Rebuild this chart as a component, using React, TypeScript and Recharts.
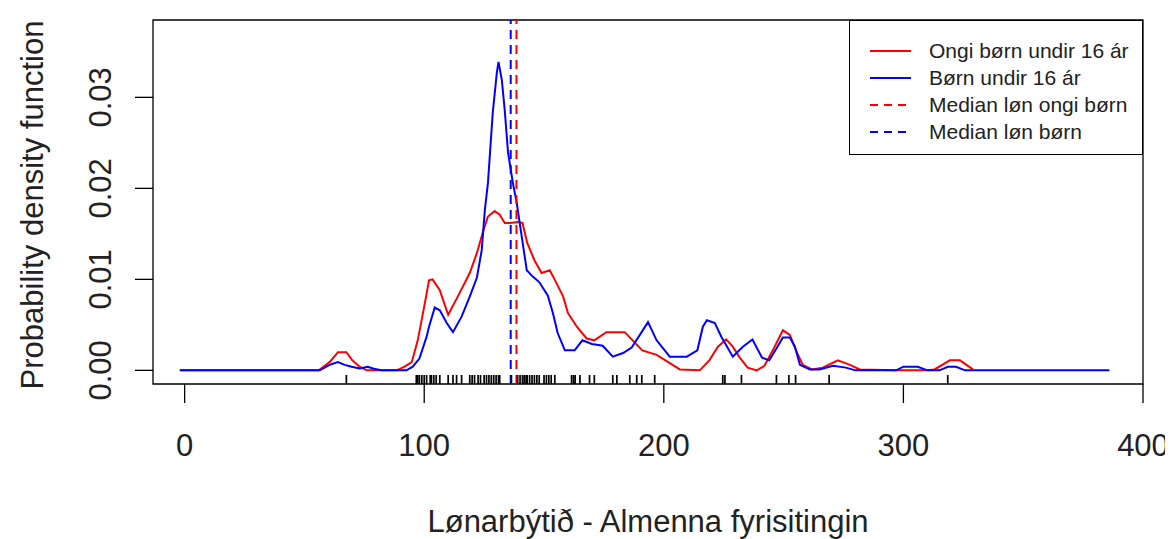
import React from 'react';
import { ComposedChart, Line, XAxis, YAxis, Scatter, ReferenceLine, ReferenceArea } from 'recharts';

// density curves (x = lønarbýti, y = density)
const ongiX = [-2, 56, 60.5, 64, 67.5, 70, 73, 76, 88.5, 91.8, 94.8, 97.3, 100, 102, 103.5, 106.5, 110, 114, 119, 122, 124.5, 126.6, 129.4, 131.5, 133.6, 135.7, 139, 141, 143, 146, 149, 152.4, 155, 158, 160, 163.7, 167.8, 171, 176, 183.7, 187, 191, 197, 202.5, 206.7, 215, 219, 222.6, 226, 228.8, 231.7, 235, 238.8, 242, 245.5, 249.7, 252.6, 255.5, 258, 261.8, 266.4, 272.6, 277.7, 281.8, 297, 310, 313, 319.4, 323.6, 329];
const ongiY = [0, 0, 0.0009, 0.002, 0.002, 0.0011, 0.0004, 0, 0, 0.0004, 0.0009, 0.0033, 0.007, 0.0099, 0.01, 0.0088, 0.0061, 0.0081, 0.0107, 0.0129, 0.0152, 0.0169, 0.0175, 0.0171, 0.0162, 0.0162, 0.0163, 0.0162, 0.014, 0.0121, 0.0107, 0.011, 0.0097, 0.0081, 0.0063, 0.0048, 0.0035, 0.0033, 0.0042, 0.0042, 0.0033, 0.0022, 0.0017, 0.0008, 0.0001, 0, 0.0011, 0.0026, 0.0034, 0.0026, 0.0014, 0.0003, 0, 0.0005, 0.0022, 0.0044, 0.0039, 0.002, 0.0006, 0.0001, 0.0003, 0.0011, 0.0006, 0.0001, 0, 0, 0.0001, 0.0011, 0.0011, 0.0001];

const bornX = [-2, 56.4, 60.5, 64, 66.8, 69.7, 73, 76.4, 78.6, 82, 92.6, 95.2, 98, 101, 102, 104.4, 106.5, 109.4, 112, 115.6, 119, 122, 124, 125.3, 126.6, 128.6, 130.3, 131, 132.4, 133.6, 135, 137, 138.6, 140.7, 142.8, 145.3, 148, 151.6, 153.7, 155.7, 158.7, 162.8, 166, 170, 174.5, 178.7, 183, 186.6, 190, 193.4, 197, 202.5, 209.6, 214, 216.3, 218, 221.3, 224, 228.8, 233, 237, 241, 244, 247, 249.7, 252.6, 254.7, 256.8, 261, 265, 270.6, 276, 280, 297, 300, 306, 310, 315, 318.6, 322, 325.7, 386];
const bornY = [0, 0, 0.0006, 0.0009, 0.0006, 0.0004, 0.0002, 0.0004, 0.0002, 0, 0, 0.0004, 0.0013, 0.0037, 0.0048, 0.0069, 0.0066, 0.0052, 0.0042, 0.0059, 0.0081, 0.0102, 0.0132, 0.0176, 0.0206, 0.0283, 0.0327, 0.0339, 0.0319, 0.0286, 0.0239, 0.0206, 0.0184, 0.0147, 0.011, 0.0103, 0.0097, 0.0082, 0.0063, 0.0041, 0.0022, 0.0022, 0.0033, 0.0029, 0.0027, 0.0015, 0.0019, 0.0025, 0.0039, 0.0053, 0.0033, 0.0015, 0.0015, 0.0022, 0.0048, 0.0055, 0.0052, 0.0037, 0.0015, 0.0026, 0.0034, 0.0014, 0.0011, 0.0024, 0.0036, 0.0036, 0.0026, 0.0006, 0.0001, 0.0001, 0.0005, 0.0003, 0, 0, 0.0004, 0.0004, 0, 0, 0.0004, 0.0004, 0, 0];

const medianOngi = 138.5;
const medianBorn = 136.1;

// rug of observations along the bottom
const rugX = [67.5, 96.7, 97.3, 98, 99, 100, 101, 102.5, 103, 104, 105, 106.5, 110, 112, 113.5, 115.6, 119, 120, 121, 122.5, 123.5, 125, 126, 127, 128, 129, 130, 131, 131.5, 136.4, 139, 140, 141, 141.7, 142.5, 143, 144, 145, 146, 147, 148, 150, 151, 152, 153, 154.5, 161.5, 162.3, 163, 165, 169, 171, 178.7, 180.4, 185.8, 188.7, 190.8, 196.2, 224.6, 225.5, 232.4, 247, 252.2, 255, 269, 318.5];

const xTicks = [0, 100, 200, 300, 400];
const yTicks = [0, 0.01, 0.02, 0.03];

const legendItems = [
    { label: 'Ongi børn undir 16 ár', color: '#ff0000', dashed: false },
    { label: 'Børn undir 16 ár', color: '#0000ff', dashed: false },
    { label: 'Median løn ongi børn', color: '#ff0000', dashed: true },
    { label: 'Median løn børn', color: '#0000ff', dashed: true },
];

const FONT = '"Liberation Sans", Arial, sans-serif';
const TEXT = '#222';
const X_MIN = -13.2;
const X_MAX = 400;
const Y_MIN = -0.0015;
const Y_MAX = 0.0385;

const ongiData = ongiX.map((x, i) => ({ x, y: ongiY[i] }));
const bornData = bornX.map((x, i) => ({ x, y: bornY[i] }));
const rugData = rugX.map(x => ({ x, y: Y_MIN }));

const YTick = (props: any) => {
    const { x, y, payload } = props;
    return (
        <text x={x} y={y} transform={`rotate(-90, ${x}, ${y})`} textAnchor="middle" dominantBaseline="central"
            fill={TEXT} fontSize={31} fontFamily={FONT}>
            {payload.value.toFixed(2)}
        </text>
    );
};

const RugMark = (props: any) => {
    const { cx, cy } = props;
    return <line x1={cx} x2={cx} y1={cy} y2={cy - 9} stroke="#000" strokeWidth={1.7} />;
};

const App: React.FC = () => {
    return (
        <div style={{ position: 'relative', width: 1165, height: 531, fontFamily: FONT }}>
            <ComposedChart width={1165} height={531} margin={{ top: 12, right: 30, left: 0, bottom: 0 }}>
                <XAxis type="number" dataKey="x" domain={[X_MIN, X_MAX]} ticks={xTicks} allowDataOverflow
                    axisLine={false} tickSize={19} tickMargin={31} height={155}
                    tickLine={{ stroke: '#000', strokeWidth: 1.3 }}
                    tick={{ fill: TEXT, fontSize: 31, fontFamily: FONT }}
                    label={{
                        content: (p: any) => (
                            <text x={p.viewBox.x + p.viewBox.width / 2} y={p.viewBox.y + 137} textAnchor="middle"
                                dominantBaseline="central" fill={TEXT} fontSize={31} fontFamily={FONT}>
                                Lønarbýtið - Almenna fyrisitingin
                            </text>
                        ),
                    }} />
                <YAxis type="number" dataKey="y" domain={[Y_MIN, Y_MAX]} ticks={yTicks} allowDataOverflow
                    axisLine={false} width={145} tickSize={18} tickMargin={34}
                    tickLine={{ stroke: '#000', strokeWidth: 1.3 }}
                    tick={<YTick />}
                    label={{
                        content: (p: any) => {
                            const cx = p.viewBox.x + 24;
                            const cy = p.viewBox.y + p.viewBox.height / 2 + 3;
                            return (
                                <text x={cx} y={cy} transform={`rotate(-90, ${cx}, ${cy})`} textAnchor="middle"
                                    dominantBaseline="central" fill={TEXT} fontSize={31} fontFamily={FONT}>
                                    Probability density function
                                </text>
                            );
                        },
                    }} />
                <ReferenceArea x1={X_MIN} x2={X_MAX} y1={Y_MIN} y2={Y_MAX} fill="none" stroke="#000"
                    strokeWidth={1.3} fillOpacity={0} ifOverflow="visible" />
                <Scatter data={rugData} shape={<RugMark />} isAnimationActive={false} />
                <Line data={ongiData} dataKey="y" type="linear" stroke="#ff0000" strokeWidth={2} dot={false}
                    isAnimationActive={false} />
                <Line data={bornData} dataKey="y" type="linear" stroke="#0000ff" strokeWidth={2} dot={false}
                    isAnimationActive={false} />
                <ReferenceLine x={medianOngi} stroke="#ff0000" strokeWidth={2} strokeDasharray="9 6" />
                <ReferenceLine x={medianBorn} stroke="#0000ff" strokeWidth={2} strokeDasharray="9 6" />
            </ComposedChart>
            <div style={{
                position: 'absolute', left: 841, top: 12, width: 294, height: 135, boxSizing: 'border-box',
                border: '1.3px solid #000', background: '#fff',
            }}>
                {legendItems.map((item, i) => (
                    <div key={item.label} style={{ position: 'absolute', left: 0, top: 30 + i * 27 - 14, height: 28, width: '100%' }}>
                        <svg width={70} height={28} style={{ position: 'absolute', left: 0, top: 0 }}>
                            <line x1={20} x2={61} y1={14} y2={14} stroke={item.color} strokeWidth={2}
                                strokeDasharray={item.dashed ? '8 6' : undefined} />
                        </svg>
                        <span style={{
                            position: 'absolute', left: 79, top: 0, lineHeight: '28px', fontSize: 21,
                            color: TEXT, whiteSpace: 'nowrap',
                        }}>{item.label}</span>
                    </div>
                ))}
            </div>
        </div>
    );
};

export default App;
